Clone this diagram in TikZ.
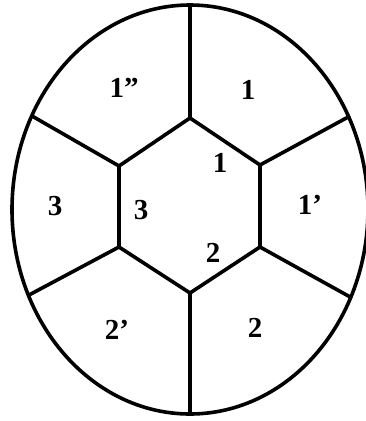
\documentclass[tikz,border=0pt]{standalone}
\usepackage{fontspec}
\setmainfont{Liberation Serif}
\begin{document}
\begin{tikzpicture}[x=1pt,y=-1pt,
  edge/.style={line width=3.6pt,line join=miter},
  lbl/.style={font=\bfseries\fontsize{29}{32}\selectfont,inner sep=0pt}]
\useasboundingbox (0,0) rectangle (365,421);
% hexagon vertices
\coordinate (ht) at (190,118);
\coordinate (hur) at (260,165);
\coordinate (hlr) at (260,247);
\coordinate (hb) at (190,293);
\coordinate (hll) at (119,247);
\coordinate (hul) at (119,166);
% spoke ends on the ellipse
\coordinate (et) at (190,5);
\coordinate (eur) at (350,116);
\coordinate (elr) at (352,298);
\coordinate (eb) at (190,414);
\coordinate (ell) at (29,295);
\coordinate (eul) at (32,116);
% ellipse
\draw[edge] (190,209.5) ellipse [x radius=178, y radius=204.5];
% hexagon
\draw[edge] (ht) -- (hur) -- (hlr) -- (hb) -- (hll) -- (hul) -- cycle;
% spokes
\draw[edge] (ht) -- (et);
\draw[edge] (hur) -- (eur);
\draw[edge] (hlr) -- (elr);
\draw[edge] (hb) -- (eb);
\draw[edge] (hll) -- (ell);
\draw[edge] (hul) -- (eul);
% labels
\node[lbl] (l1a) at (124,88) {1”};
\node[lbl] (l1b) at (248,90) {1};
\node[lbl] (l1c) at (220,163) {1};
\node[lbl] (l3a) at (55,206) {3};
\node[lbl] (l3b) at (141,210) {3};
\node[lbl] (l1d) at (310,205) {1’};
\node[lbl] (l2a) at (213,253) {2};
\node[lbl] (l2b) at (117,330) {2’};
\node[lbl] (l2c) at (255,328) {2};
\end{tikzpicture}
\end{document}
